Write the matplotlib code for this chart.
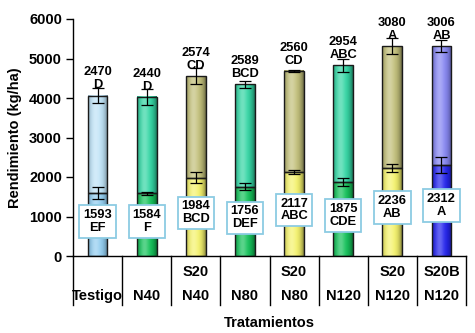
import numpy as np
import matplotlib
matplotlib.use("Agg")
import matplotlib.pyplot as plt
from matplotlib.colors import to_rgb
from matplotlib.patches import Rectangle
import matplotlib.transforms as mtransforms

plt.rcParams['font.family'] = ['Liberation Sans', 'DejaVu Sans']
plt.rcParams['font.weight'] = 'bold'

# Treatments (two label rows under the axis)
row_s = ["", "", "S20", "", "S20", "", "S20", "S20B"]
row_n = ["Testigo", "N40", "N40", "N80", "N80", "N120", "N120", "N120"]

# Lower segment values with significance letters
base_vals = [1593, 1584, 1984, 1756, 2117, 1875, 2236, 2312]
base_letters = ["EF", "F", "BCD", "DEF", "ABC", "CDE", "AB", "A"]
base_err = [150, 30, 130, 80, 50, 100, 100, 200]

# Upper segment values with significance letters
top_vals = [2470, 2440, 2574, 2589, 2560, 2954, 3080, 3006]
top_letters = ["D", "D", "CD", "BCD", "CD", "ABC", "A", "AB"]
top_err = [200, 200, 200, 90, 30, 170, 200, 160]

# Segment colours (upper, lower) per bar
top_colors = ["#bfe3f7", "#33d6a4", "#c2c07a", "#33d6a4", "#c2c07a", "#33d6a4", "#c2c07a", "#8686f2"]
base_colors = ["#92cdf0", "#14c25a", "#f5f36c", "#14c25a", "#f5f36c", "#14c25a", "#f5f36c", "#2424ee"]

W, H = 475, 333
fig = plt.figure(figsize=(W / 100, H / 100), dpi=100)
ax = fig.add_axes([73 / W, 1 - 256 / H, (466 - 73) / W, (256 - 19) / H])

n = len(row_n)
x = np.arange(n)
bw = 0.40
ax.set_xlim(-0.5, n - 0.5)
ax.set_ylim(0, 6000)


def shade(color, npx=64):
    """Horizontal cylinder-style shading for a bar segment."""
    c = np.array(to_rgb(color))
    t = np.linspace(0, 1, npx)
    # light stripe left of centre, darker towards both edges
    light = np.exp(-((t - 0.38) / 0.22) ** 2) * 0.3
    dark = (np.abs(t - 0.45) / 0.55) ** 3 * 0.45
    row = c[None, :] * (1 - dark[:, None]) + (1 - c[None, :]) * light[:, None]
    row = np.clip(row, 0, 1)
    return row[None, :, :]


def draw_segment(xc, y0, h, color):
    x0, x1 = xc - bw / 2, xc + bw / 2
    ax.imshow(shade(color), extent=(x0, x1, y0, y0 + h), aspect='auto',
              interpolation='bilinear', zorder=2)
    ax.add_patch(Rectangle((x0, y0), bw, h, fill=False, ec="#1a1a1a", lw=1.0, zorder=3))


for i in range(n):
    draw_segment(x[i], 0, base_vals[i], base_colors[i])
    draw_segment(x[i], base_vals[i], top_vals[i], top_colors[i])

tops = np.array(base_vals) + np.array(top_vals)
ax.errorbar(x, base_vals, yerr=base_err, fmt='none', ecolor='black',
            elinewidth=0.9, capsize=4, capthick=0.9, zorder=4)
ax.errorbar(x, tops, yerr=top_err, fmt='none', ecolor='black',
            elinewidth=0.9, capsize=4, capthick=0.9, zorder=4)

# Labels above the bars
for i in range(n):
    ax.text(x[i], tops[i] + 110, f"{top_vals[i]}\n{top_letters[i]}", ha='center',
            va='bottom', fontsize=9.3, fontweight='bold', linespacing=1.1, zorder=5)

# Boxed labels on the lower segments
for i in range(n):
    ax.text(x[i], base_vals[i] * 0.55, f"{base_vals[i]}\n{base_letters[i]}",
            ha='center', va='center', fontsize=9.3, fontweight='bold',
            linespacing=1.1, zorder=5,
            bbox=dict(boxstyle='square,pad=0.3', fc='white', ec='#8ccbe3', lw=1.3))

# Axes styling
for s in ['top', 'right']:
    ax.spines[s].set_visible(False)
ax.spines['left'].set_linewidth(1.0)
ax.spines['bottom'].set_linewidth(1.0)
ax.set_yticks(np.arange(0, 6001, 1000))
ax.tick_params(axis='y', labelsize=10.5, length=5, width=1.0, pad=3)
for lab in ax.get_yticklabels():
    lab.set_fontweight('bold')
ax.set_xticks([])
ax.set_ylabel("Rendimiento (kg/ha)", fontsize=10.5, fontweight='bold', labelpad=5)

# Category grid lines and two-row labels below the axis
trans = mtransforms.blended_transform_factory(ax.transData, ax.transAxes)
depth = -(305 - 256) / (256 - 19)
for b in np.arange(-0.5, n, 1.0):
    ax.plot([b, b], [0, depth], color='black', lw=1.0, transform=trans, clip_on=False)
for i in range(n):
    ax.text(x[i], -(272 - 256) / 237, row_s[i], transform=trans, ha='center',
            va='center', fontsize=10.5, fontweight='bold')
    ax.text(x[i], -(296 - 256) / 237, row_n[i], transform=trans, ha='center',
            va='center', fontsize=10.5, fontweight='bold')
ax.text(0.5, -(323 - 256) / 237, "Tratamientos", transform=ax.transAxes,
        ha='center', va='center', fontsize=10.5, fontweight='bold')

fig.savefig("out.png", dpi=100)
